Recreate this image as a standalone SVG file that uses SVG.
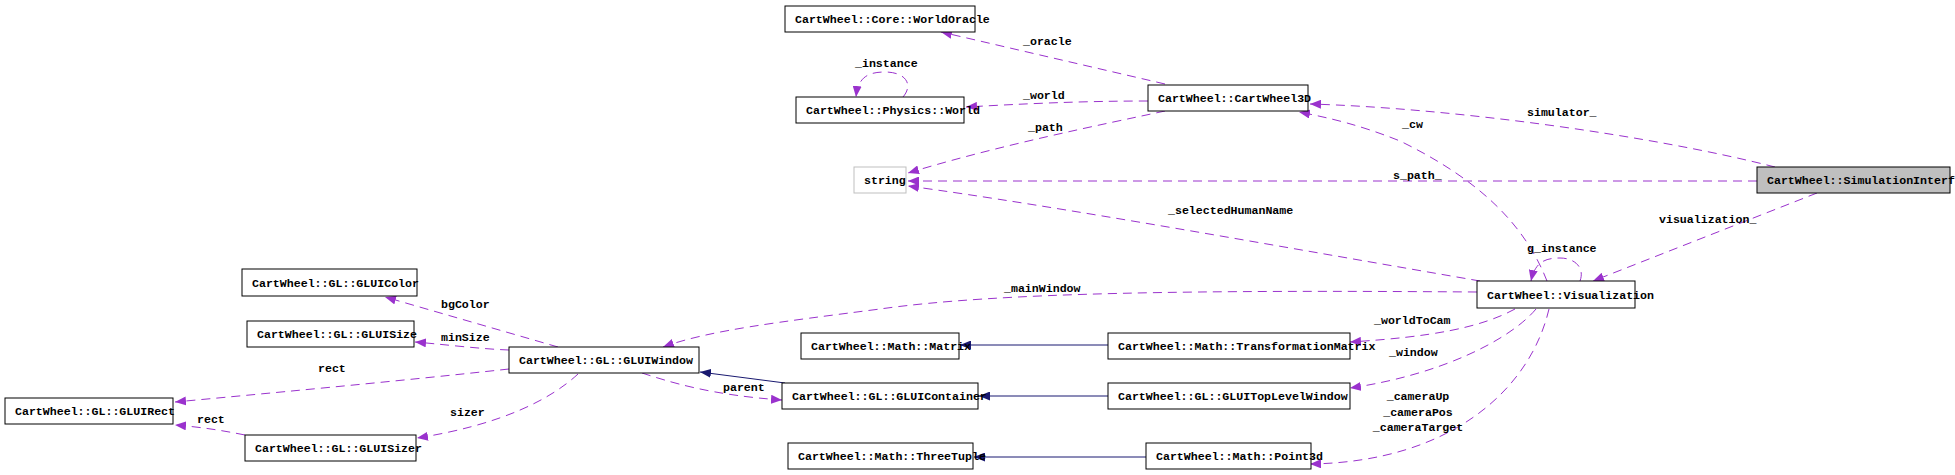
<svg xmlns="http://www.w3.org/2000/svg" width="1955" height="475" viewBox="0 0 1955 475">
<style>
text{font-family:"Liberation Mono","DejaVu Sans Mono",monospace;font-size:11.6px;font-weight:bold;fill:#000}
.n rect{fill:#fff;stroke:#000;stroke-width:1}
.u{fill:none;stroke:#9a32cd;stroke-width:1;stroke-dasharray:9,6;marker-end:url(#ap)}
.i{fill:none;stroke:#191970;stroke-width:1;marker-end:url(#ai)}
</style>
<defs>
<marker id="ap" markerUnits="userSpaceOnUse" markerWidth="12" markerHeight="9" refX="11" refY="4.5" orient="auto"><path d="M0,0 L11,4.5 L0,9 z" fill="#9a32cd" stroke="none"/></marker>
<marker id="ai" markerUnits="userSpaceOnUse" markerWidth="12" markerHeight="9" refX="11" refY="4.5" orient="auto"><path d="M0,0 L11,4.5 L0,9 z" fill="#191970" stroke="none"/></marker>
</defs>
<rect width="1955" height="475" fill="#fff"/>
<g id="connectors">
<path class="u" d="M1165,84 L941,32"/>
<path class="u" d="M1148,101 C1080,101 1020,104 966,107"/>
<path class="u" d="M903,97 C914,84 905,72 885,72 C867,72 858,78 856,97"/>
<path class="u" d="M1165,111 C1100,125 1000,145 908,173"/>
<path class="u" d="M1757,181 L908,181"/>
<path class="u" d="M1480,281 C1300,250 1050,205 908,186"/>
<path class="u" d="M1477,292 C1200,290 1000,292 880,309 C780,322 710,330 663,347"/>
<path class="u" d="M1775,167 C1650,135 1450,108 1310,104"/>
<path class="u" d="M1547,281 C1525,225 1480,180 1400,141 C1360,125 1330,118 1299,112"/>
<path class="u" d="M1580,281 C1585,268 1575,258 1560,258 C1545,258 1535,262 1531,281"/>
<path class="u" d="M1817,193 L1593,281"/>
<path class="u" d="M1515,309 C1480,328 1430,337 1350,342"/>
<path class="u" d="M1536,309 C1510,340 1440,375 1350,388"/>
<path class="u" d="M1549,309 C1530,390 1450,462 1310,464"/>
<path class="u" d="M558,347 L385,297"/>
<path class="u" d="M509,350 C480,349 440,344 415,342"/>
<path class="u" d="M509,369 C400,381 250,395 175,402"/>
<path class="u" d="M578,374 C550,400 500,425 417,438"/>
<path class="u" d="M245,435 C220,430 200,427 175,425"/>
<path class="u" d="M642,373 C670,382 710,395 782,400"/>
<path class="i" d="M785,383 L700,372"/>
<path class="i" d="M1108,345 L960,345"/>
<path class="i" d="M1108,396 L979,396"/>
<path class="i" d="M1146,457 L974,457"/>
<text x="1023" y="45">_oracle</text>
<text x="1023" y="99">_world</text>
<text x="855" y="67">_instance</text>
<text x="1028" y="131">_path</text>
<text x="1393" y="179">s_path_</text>
<text x="1168" y="214">_selectedHumanName</text>
<text x="1004" y="292">_mainWindow</text>
<text x="1527" y="116">simulator_</text>
<text x="1402" y="128">_cw</text>
<text x="1659" y="223">visualization_</text>
<text x="1527" y="252">g_instance</text>
<text x="1374" y="324">_worldToCam</text>
<text x="1389" y="356">_window</text>
<text x="1418" y="400" text-anchor="middle">_cameraUp</text>
<text x="1418" y="416" text-anchor="middle">_cameraPos</text>
<text x="1418" y="431" text-anchor="middle">_cameraTarget</text>
<text x="441" y="308">bgColor</text>
<text x="441" y="341">minSize</text>
<text x="318" y="372">rect</text>
<text x="450" y="416">sizer</text>
<text x="197" y="423">rect</text>
<text x="723" y="391">parent</text>
</g>
<g id="node-SimulationInterface" class="n"><rect x="1757" y="167" width="193" height="26" style="fill:#bfbfbf"/><text x="1767" y="184">CartWheel::SimulationInterface</text></g>
<g id="node-CartWheel3D" class="n"><rect x="1148" y="85" width="160" height="26"/><text x="1158" y="102">CartWheel::CartWheel3D</text></g>
<g id="node-WorldOracle" class="n"><rect x="785" y="6" width="190" height="26"/><text x="795" y="23">CartWheel::Core::WorldOracle</text></g>
<g id="node-World" class="n"><rect x="796" y="97" width="168" height="26"/><text x="806" y="114">CartWheel::Physics::World</text></g>
<g id="node-string" class="n"><rect x="854" y="167" width="52" height="26" style="stroke:#bfbfbf"/><text x="864" y="184">string</text></g>
<g id="node-Visualization" class="n"><rect x="1477" y="281" width="158" height="27"/><text x="1487" y="299">CartWheel::Visualization</text></g>
<g id="node-GLUIColor" class="n"><rect x="242" y="269" width="175" height="27"/><text x="252" y="287">CartWheel::GL::GLUIColor</text></g>
<g id="node-GLUISize" class="n"><rect x="247" y="321" width="167" height="26"/><text x="257" y="338">CartWheel::GL::GLUISize</text></g>
<g id="node-GLUIWindow" class="n"><rect x="509" y="347" width="190" height="26"/><text x="519" y="364">CartWheel::GL::GLUIWindow</text></g>
<g id="node-GLUIRect" class="n"><rect x="5" y="398" width="168" height="26"/><text x="15" y="415">CartWheel::GL::GLUIRect</text></g>
<g id="node-GLUISizer" class="n"><rect x="245" y="435" width="171" height="26"/><text x="255" y="452">CartWheel::GL::GLUISizer</text></g>
<g id="node-Matrix" class="n"><rect x="801" y="333" width="158" height="26"/><text x="811" y="350">CartWheel::Math::Matrix</text></g>
<g id="node-TransformationMatrix" class="n"><rect x="1108" y="333" width="242" height="26"/><text x="1118" y="350">CartWheel::Math::TransformationMatrix</text></g>
<g id="node-GLUIContainer" class="n"><rect x="782" y="383" width="196" height="26"/><text x="792" y="400">CartWheel::GL::GLUIContainer</text></g>
<g id="node-GLUITopLevelWindow" class="n"><rect x="1108" y="383" width="242" height="26"/><text x="1118" y="400">CartWheel::GL::GLUITopLevelWindow</text></g>
<g id="node-ThreeTuple" class="n"><rect x="788" y="443" width="185" height="26"/><text x="798" y="460">CartWheel::Math::ThreeTuple</text></g>
<g id="node-Point3d" class="n"><rect x="1146" y="443" width="165" height="26"/><text x="1156" y="460">CartWheel::Math::Point3d</text></g>
</svg>
